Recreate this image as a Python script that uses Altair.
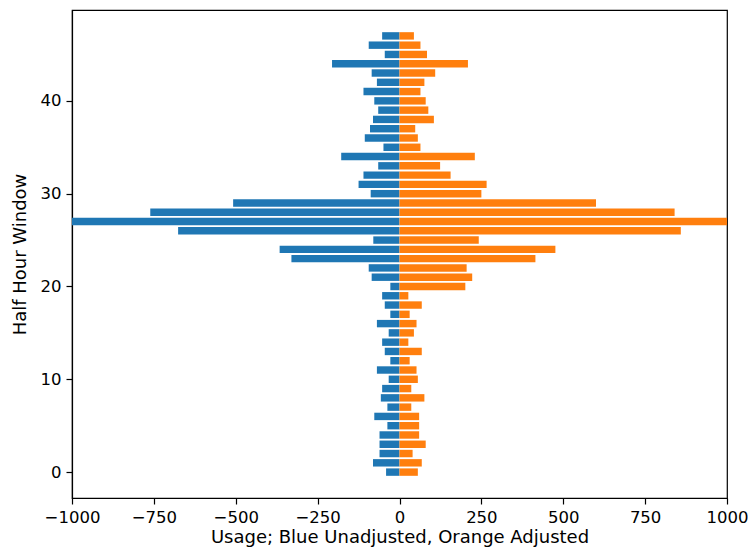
import altair as alt
import pandas as pd

windows = list(range(48))
unadjusted = [-41, -81, -61, -61, -61, -37, -77, -37, -57, -53,
              -33, -69, -28, -45, -53, -33, -69, -28, -45, -53,
              -28, -85, -94, -330, -366, -80, -676, -1000, -761, -508,
              -88, -125, -110, -65, -178, -49, -106, -90, -81, -65,
              -77, -110, -69, -85, -206, -45, -94, -53]
adjusted = [56, 68, 40, 80, 60, 60, 60, 36, 76, 36,
            56, 52, 31, 68, 27, 44, 52, 31, 68, 27,
            201, 222, 205, 415, 476, 242, 859, 1000, 840, 600,
            250, 266, 156, 124, 230, 64, 56, 48, 105, 88,
            80, 64, 76, 109, 209, 84, 64, 44]

series_names = ["Unadjusted", "Adjusted"]
series_colors = ["#1f77b4", "#ff7f0e"]
x_ticks = [-1000, -750, -500, -250, 0, 250, 500, 750, 1000]
y_ticks = [0, 10, 20, 30, 40]

rows = []
for w, u, a in zip(windows, unadjusted, adjusted):
    rows.append({"window": w, "value": u, "series": "Unadjusted"})
    rows.append({"window": w, "value": a, "series": "Adjusted"})
df = pd.DataFrame(rows)

FONT = "DejaVu Sans"

chart = alt.Chart(df).transform_calculate(
    y0="datum.window - 0.4", y1="datum.window + 0.4", zero="0"
).mark_rect(clip=True).encode(
    x=alt.X("zero:Q", scale=alt.Scale(domain=[-1000, 1000], nice=False, zero=False),
            axis=alt.Axis(values=x_ticks, format="d", labelOverlap=False,
                          labelFlush=False, labelBound=False,
                          title="Usage; Blue Unadjusted, Orange Adjusted",
                          grid=False)),
    x2="value:Q",
    y=alt.Y("y0:Q", scale=alt.Scale(domain=[-2.79, 49.79], nice=False, zero=False),
            axis=alt.Axis(values=y_ticks, format="d", title="Half Hour Window",
                          labelFlush=False, grid=False)),
    y2="y1:Q",
    color=alt.Color("series:N", scale=alt.Scale(domain=series_names, range=series_colors),
                    legend=None),
).properties(
    width=655, height=488,
    autosize=alt.AutoSizeParams(type="none"),
    padding={"left": 64, "top": 2, "right": 21, "bottom": 51},
).configure_view(
    stroke="black", strokeWidth=1.2
).configure_axis(
    domainColor="black", domainWidth=1.2, tickColor="black", tickWidth=1.2,
    tickSize=6, labelPadding=5, labelFont=FONT, labelFontSize=16.5,
    labelColor="black", titleFont=FONT, titleFontSize=18, titleFontWeight="normal",
    titleColor="black"
).configure_axisX(
    titlePadding=3
).configure_axisY(
    titlePadding=11
)

chart.save("out.html", embed_options={"renderer": "svg", "actions": False})
